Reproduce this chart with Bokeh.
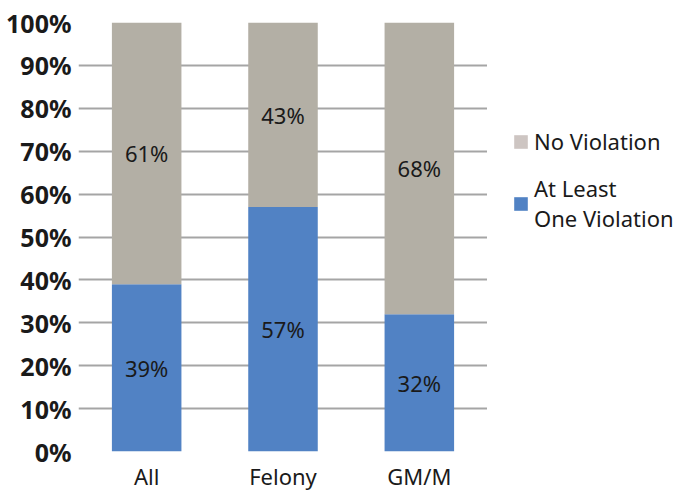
from bokeh.plotting import figure
from bokeh.layouts import row
from bokeh.models import (ColumnDataSource, FactorRange, Legend, LegendItem,
                          PrintfTickFormatter, SingleIntervalTicker)
from bokeh.core.properties import value
from bokeh.embed import file_html
from bokeh.resources import INLINE

# Share of cases by violation outcome (percent)
categories = ["All", "Felony", "GM/M"]
at_least_one = [39, 57, 32]
no_violation = [61, 43, 68]
series_names = ["No Violation", "At Least\nOne Violation"]

BLUE = "#5182c4"
GREY = "#b3afa5"
LEGEND_GREY = "#cdc5c2"
TEXT = "#1a1a1a"
FONT = "Noto Sans"

src = ColumnDataSource(dict(
    cat=categories,
    blue_top=at_least_one,
    grey_top=[a + b for a, b in zip(at_least_one, no_violation)],
    blue_mid=[a / 2 for a in at_least_one],
    grey_mid=[a + b / 2 for a, b in zip(at_least_one, no_violation)],
    blue_lbl=[f"{v}%" for v in at_least_one],
    grey_lbl=[f"{v}%" for v in no_violation],
))

p = figure(x_range=FactorRange(*categories, range_padding=0), y_range=(0, 100),
           width=487, height=493, output_backend="svg", toolbar_location=None,
           min_border_left=78, min_border_right=0, min_border_top=22,
           min_border_bottom=42)
p.outline_line_color = None
p.background_fill_color = "white"
p.border_fill_color = "white"

p.vbar(x="cat", bottom=0, top="blue_top", width=0.51, source=src,
       fill_color=BLUE, line_color=None)
p.vbar(x="cat", bottom="blue_top", top="grey_top", width=0.51, source=src,
       fill_color=GREY, line_color=None)

p.text(x="cat", y="blue_mid", text="blue_lbl", source=src,
       text_font=value(FONT), text_font_size="22px", text_color=TEXT,
       text_align="center", text_baseline="middle")
p.text(x="cat", y="grey_mid", text="grey_lbl", source=src,
       text_font=value(FONT), text_font_size="22px", text_color=TEXT,
       text_align="center", text_baseline="middle")

p.ygrid.grid_line_color = "#a5a5a5"
p.ygrid.grid_line_width = 2
p.xgrid.grid_line_color = None

p.yaxis.ticker = SingleIntervalTicker(interval=10)
p.yaxis.formatter = PrintfTickFormatter(format="%d%%")
p.yaxis.axis_line_color = None
p.yaxis.major_tick_line_color = None
p.yaxis.minor_tick_line_color = None
p.yaxis.major_tick_out = 0
p.yaxis.major_label_standoff = 3
p.yaxis.major_label_text_font = FONT
p.yaxis.major_label_text_font_style = "bold"
p.yaxis.major_label_text_font_size = "25px"
p.yaxis.major_label_text_color = TEXT

p.xaxis.axis_line_color = None
p.xaxis.major_tick_line_color = None
p.xaxis.major_tick_out = 0
p.xaxis.major_label_standoff = 9
p.xaxis.major_label_text_font = FONT
p.xaxis.major_label_text_font_size = "22px"
p.xaxis.major_label_text_color = TEXT

# legend panel to the right of the chart
lg = figure(width=189, height=493, x_range=(0, 1), y_range=(0, 1),
            output_backend="svg", toolbar_location=None,
            min_border=0, x_axis_type=None, y_axis_type=None)
lg.outline_line_color = None
lg.grid.visible = False
lg.background_fill_color = "white"
lg.border_fill_color = "white"

# zero-height bars that only supply the legend swatches
sw_grey = lg.vbar(x=[0], top=[0], bottom=[0], width=0.5,
                  fill_color=LEGEND_GREY, line_color=None)
sw_blue = lg.vbar(x=[0], top=[0], bottom=[0], width=0.5,
                  fill_color=BLUE, line_color=None)

legend = Legend(items=[LegendItem(label=series_names[0], renderers=[sw_grey]),
                       LegendItem(label=series_names[1], renderers=[sw_blue])],
                location=(25, 218), orientation="vertical",
                glyph_width=17, glyph_height=17, label_standoff=5,
                label_text_font=FONT, label_text_font_size="22px",
                label_text_color=TEXT, label_text_line_height=1.3,
                spacing=17, padding=0, margin=0,
                border_line_color=None, background_fill_alpha=0)
lg.add_layout(legend)

open("out.html", "w").write(file_html(row(p, lg, spacing=0), INLINE))
